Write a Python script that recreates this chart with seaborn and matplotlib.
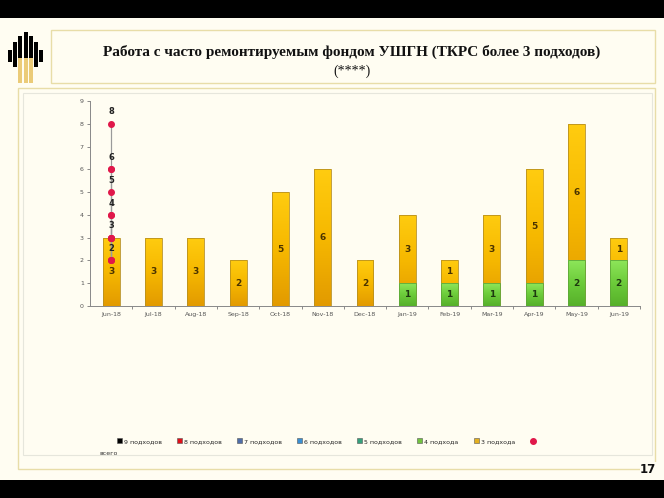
import numpy as np
import matplotlib
matplotlib.use("Agg")
import matplotlib.pyplot as plt
from matplotlib.colors import LinearSegmentedColormap
from matplotlib.patches import Rectangle
from matplotlib.lines import Line2D
import seaborn as sns

# ---------------- data ----------------
months = ["Jun-18", "Jul-18", "Aug-18", "Sep-18", "Oct-18", "Nov-18", "Dec-18",
          "Jan-19", "Feb-19", "Mar-19", "Apr-19", "May-19", "Jun-19"]
s3 = [3, 3, 3, 2, 5, 6, 2, 3, 1, 3, 5, 6, 1]      # 3 подхода
s4 = [0, 0, 0, 0, 0, 0, 0, 1, 1, 1, 1, 2, 2]      # 4 подхода
totals = [a + b for a, b in zip(s3, s4)]          # всего
legend_labels = ["9 подходов", "8 подходов", "7 подходов", "6 подходов",
                 "5 подходов", "4 подхода", "3 подхода"]
legend_colors = ["#000000", "#E0101A", "#4F6DA8", "#3A8FD2", "#35A07C",
                 "#72C240", "#E4B020"]
title = "Работа с часто ремонтируемым фондом УШГН (ТКРС более 3 подходов)"
subtitle = "(****)"
page = "17"

W, H = 664, 498
BG = "#FFFDF2"

sns.set_theme(style="white")
plt.rcParams["font.family"] = ["DejaVu Sans"]

fig = plt.figure(figsize=(W / 100, H / 100), dpi=100, facecolor=BG)


def fx(x):
    return x / W


def fy(y):
    return 1 - y / H


def frect(x0, y0, x1, y1, **kw):
    fig.patches.append(Rectangle((fx(x0), fy(y1)), fx(x1) - fx(x0), fy(y0) - fy(y1),
                                 transform=fig.transFigure, **kw))


# black bands
frect(0, 0, W, 18, facecolor="black", edgecolor="none")
frect(0, 480, W, H, facecolor="black", edgecolor="none")

# frames
frect(51, 30, 655, 83, facecolor="none", edgecolor="#E8DDA8", lw=1.0)
frect(18, 88, 655, 469, facecolor="none", edgecolor="#E8DDA8", lw=1.0)
frect(23, 93, 652, 455, facecolor="none", edgecolor="#E6E6DC", lw=0.8)
frect(640, 462, 664, 480, facecolor=BG, edgecolor="none")

# logo
bars_logo = [(10, 50, 62), (15, 42, 67), (20, 36, 70), (25.5, 32, 71),
             (31, 36, 70), (36, 42, 67), (41, 50, 62)]
for cx, t, b in bars_logo:
    frect(cx - 2.0, t, cx + 2.0, b, facecolor="black", edgecolor="none")
for cx in (20, 25.5, 31):
    frect(cx - 2.0, 58, cx + 2.0, 83, facecolor="#EBCB78", edgecolor="none")

# title
fig.text(fx(352), fy(52), title, ha="center", va="center", fontsize=11,
         family=["Liberation Serif"], fontweight="bold", color="#111111")
fig.text(fx(352), fy(71), subtitle, ha="center", va="center", fontsize=10,
         family=["Liberation Serif"], color="#111111")
fig.text(fx(648), fy(469), page, ha="center", va="center", fontsize=8.5,
         fontweight="bold", color="#111111")

# ---------------- chart ----------------
ax = fig.add_axes([fx(90), fy(306), fx(640) - fx(90), fy(101) - fy(306)])
ax.set_facecolor(BG)

sns.barplot(x=months, y=totals, color="#F2B705", width=0.4, saturation=1,
            ax=ax, zorder=2)
n_gold = len(ax.patches)
sns.barplot(x=months, y=s4, color="#72C240", width=0.4, saturation=1,
            ax=ax, zorder=2)

gold_cmap = LinearSegmentedColormap.from_list("g", ["#E29A00", "#F6B800", "#FFCC10"])
green_cmap = LinearSegmentedColormap.from_list("gr", ["#56B02A", "#6CCB3A", "#8EE65A"])
grad = np.linspace(0, 1, 256).reshape(-1, 1)
for i, p in enumerate(ax.patches):
    h = p.get_height()
    if h <= 0:
        p.set_visible(False)
        continue
    x0, y0, w = p.get_x(), p.get_y(), p.get_width()
    cmap = gold_cmap if i < n_gold else green_cmap
    z = 2 if i < n_gold else 2.3
    im = ax.imshow(grad, extent=[x0, x0 + w, y0, y0 + h], origin="lower",
                   aspect="auto", cmap=cmap, zorder=z)
    im.set_clip_path(p)
    p.set_facecolor("none")
    p.set_edgecolor("#B89020" if i < n_gold else "#5EA838")
    p.set_linewidth(0.6)
    p.set_zorder(z + 0.1)

# segment labels
for i, (a, b) in enumerate(zip(s3, s4)):
    ax.text(i, b + a / 2, str(a), ha="center", va="center", fontsize=6.5,
            fontweight="bold", color="#4A3300", zorder=5)
    if b > 0:
        ax.text(i, b / 2, str(b), ha="center", va="center", fontsize=6.5,
                fontweight="bold", color="#1F3A10", zorder=5)

# "всего" series (all drawn at the first category, as in the original)
xs_total = [0] * len(totals)
ax.plot(xs_total, totals, color="#9A9A9A", lw=0.8, zorder=6,
        marker="o", markersize=4, markerfacecolor="#E0184A",
        markeredgecolor="#E0184A")
for v in sorted(set(totals)):
    ax.text(0, v + 0.52, str(v), ha="center", va="center", fontsize=6,
            fontweight="bold", color="#222222", zorder=7)

ax.set_xlim(-0.5, 12.5)
ax.set_ylim(0, 9)
ax.set_yticks(range(0, 10))
ax.set_yticklabels([str(v) for v in range(0, 10)])
ax.set_xticks(range(len(months)))
ax.set_xticklabels(months)
ax.set_xticks(np.arange(0.5, len(months), 1), minor=True)
ax.tick_params(axis="x", which="major", length=0, labelsize=4.5,
               colors="#555555", pad=4)
ax.tick_params(axis="x", which="minor", length=2.5, width=0.6,
               color="#777777", direction="out", bottom=True)
ax.tick_params(axis="y", length=2.5, width=0.6, color="#777777",
               labelsize=4.5, labelcolor="#555555", left=True, pad=2)
for s in ("top", "right"):
    ax.spines[s].set_visible(False)
for s in ("left", "bottom"):
    ax.spines[s].set_color("#888888")
    ax.spines[s].set_linewidth(0.7)
ax.set_xlabel("")
ax.set_ylabel("")
ax.grid(False)

# legend
handles = [Rectangle((0, 0), 1, 1, facecolor=c, edgecolor="#555555", lw=0.4)
           for c in legend_colors]
handles.append(Line2D([0], [0], color="#9A9A9A", lw=0.8, marker="o",
                      markersize=4, markerfacecolor="#E0184A",
                      markeredgecolor="#E0184A"))
fig.legend(handles, legend_labels + [""], loc="center",
           bbox_to_anchor=(fx(327), fy(441)), ncol=8, frameon=False,
           fontsize=4.5, handlelength=0.8, handleheight=0.8,
           handletextpad=0.3, columnspacing=2.45)
fig.text(fx(99), fy(453), "всего", ha="left", va="center", fontsize=4.5,
         color="#333333")

fig.savefig("out.png", dpi=100, facecolor=BG)
